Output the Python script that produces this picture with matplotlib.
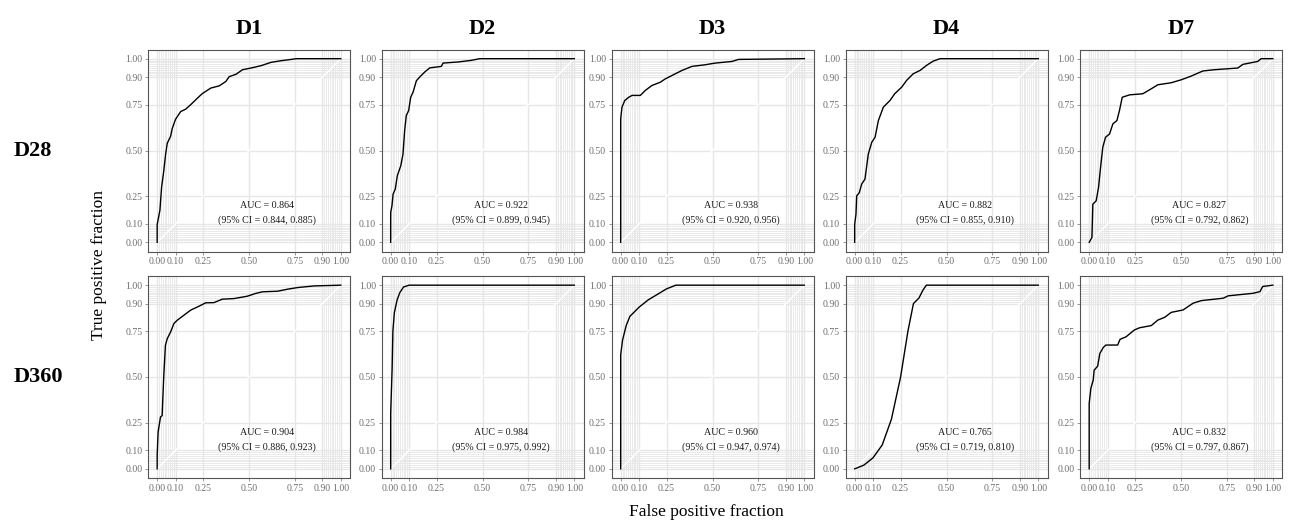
import numpy as np
import matplotlib
matplotlib.use("Agg")
import matplotlib.pyplot as plt

plt.rcParams["font.family"] = ["Liberation Serif", "DejaVu Serif"]

# ----------------------------------------------------------
# ROC curve vertices (false positive fraction, true positive fraction)
# ----------------------------------------------------------
col_names = ["D1", "D2", "D3", "D4", "D7"]
row_names = ["D28", "D360"]

fpr_d28_d1 = [0, 0, 0.015, 0.024, 0.036, 0.046, 0.055, 0.073, 0.082, 0.10, 0.128, 0.155, 0.182, 0.219, 0.246, 0.292, 0.338, 0.374, 0.392, 0.429, 0.465, 0.511, 0.566, 0.62, 0.675, 0.73, 0.757, 1]
tpr_d28_d1 = [0, 0.097, 0.175, 0.30, 0.39, 0.48, 0.54, 0.577, 0.62, 0.67, 0.712, 0.725, 0.749, 0.785, 0.81, 0.84, 0.852, 0.876, 0.902, 0.915, 0.94, 0.949, 0.962, 0.98, 0.989, 0.996, 1.0, 1]

fpr_d28_d2 = [0, 0, 0.007, 0.013, 0.025, 0.036, 0.055, 0.067, 0.076, 0.085, 0.098, 0.109, 0.122, 0.14, 0.158, 0.185, 0.213, 0.276, 0.285, 0.367, 0.44, 0.485, 1]
tpr_d28_d2 = [0, 0.162, 0.199, 0.262, 0.29, 0.362, 0.417, 0.48, 0.608, 0.69, 0.718, 0.79, 0.818, 0.88, 0.90, 0.927, 0.95, 0.958, 0.976, 0.982, 0.991, 1.0, 1]

fpr_d28_d3 = [0, 0, 0.007, 0.022, 0.044, 0.062, 0.107, 0.134, 0.17, 0.216, 0.243, 0.298, 0.334, 0.388, 0.461, 0.515, 0.606, 0.642, 1]
tpr_d28_d3 = [0, 0.672, 0.736, 0.772, 0.79, 0.80, 0.80, 0.827, 0.854, 0.872, 0.89, 0.918, 0.936, 0.958, 0.967, 0.976, 0.985, 0.996, 1]

fpr_d28_d4 = [0, 0, 0.007, 0.011, 0.025, 0.038, 0.056, 0.074, 0.093, 0.111, 0.129, 0.156, 0.192, 0.218, 0.256, 0.283, 0.319, 0.356, 0.392, 0.428, 0.465, 1]
tpr_d28_d4 = [0, 0.098, 0.153, 0.253, 0.27, 0.317, 0.344, 0.48, 0.545, 0.572, 0.663, 0.736, 0.772, 0.809, 0.845, 0.882, 0.918, 0.936, 0.964, 0.987, 1.0, 1]

fpr_d28_d7 = [0, 0.015, 0.02, 0.038, 0.051, 0.062, 0.074, 0.089, 0.111, 0.129, 0.151, 0.165, 0.18, 0.22, 0.292, 0.338, 0.374, 0.447, 0.501, 0.555, 0.619, 0.682, 0.809, 0.837, 0.918, 0.936, 1]
tpr_d28_d7 = [0, 0.026, 0.208, 0.226, 0.299, 0.408, 0.517, 0.572, 0.59, 0.645, 0.663, 0.718, 0.79, 0.803, 0.809, 0.836, 0.858, 0.869, 0.885, 0.905, 0.933, 0.94, 0.949, 0.969, 0.985, 1.0, 1]

fpr_d360_d1 = [0, 0, 0.005, 0.018, 0.027, 0.036, 0.045, 0.055, 0.073, 0.091, 0.109, 0.145, 0.182, 0.227, 0.264, 0.309, 0.355, 0.418, 0.491, 0.536, 0.573, 0.655, 0.709, 0.764, 0.855, 1]
tpr_d360_d1 = [0, 0.073, 0.2, 0.282, 0.29, 0.51, 0.673, 0.709, 0.745, 0.791, 0.809, 0.836, 0.864, 0.885, 0.904, 0.905, 0.924, 0.927, 0.94, 0.955, 0.964, 0.967, 0.978, 0.987, 0.996, 1]

fpr_d360_d2 = [0, 0, 0.008, 0.012, 0.02, 0.035, 0.05, 0.07, 0.10, 1]
tpr_d360_d2 = [0, 0.30, 0.55, 0.75, 0.85, 0.92, 0.96, 0.99, 1.0, 1]

fpr_d360_d3 = [0, 0, 0.01, 0.03, 0.05, 0.10, 0.15, 0.20, 0.25, 0.30, 1]
tpr_d360_d3 = [0, 0.62, 0.70, 0.78, 0.83, 0.88, 0.92, 0.95, 0.98, 1.0, 1]

fpr_d360_d4 = [0, 0.05, 0.10, 0.15, 0.20, 0.25, 0.29, 0.32, 0.35, 0.37, 0.39, 1]
tpr_d360_d4 = [0, 0.02, 0.06, 0.13, 0.27, 0.50, 0.75, 0.90, 0.93, 0.97, 1.0, 1]

fpr_d360_d7 = [0, 0, 0.009, 0.022, 0.027, 0.046, 0.058, 0.077, 0.091, 0.155, 0.168, 0.201, 0.246, 0.274, 0.338, 0.374, 0.411, 0.447, 0.511, 0.566, 0.611, 0.73, 0.757, 0.894, 0.93, 0.945, 1]
tpr_d360_d7 = [0, 0.355, 0.437, 0.483, 0.537, 0.559, 0.628, 0.661, 0.674, 0.674, 0.705, 0.719, 0.756, 0.768, 0.78, 0.81, 0.825, 0.852, 0.865, 0.902, 0.916, 0.929, 0.942, 0.956, 0.965, 0.993, 1]

fpr = [[fpr_d28_d1, fpr_d28_d2, fpr_d28_d3, fpr_d28_d4, fpr_d28_d7],
       [fpr_d360_d1, fpr_d360_d2, fpr_d360_d3, fpr_d360_d4, fpr_d360_d7]]
tpr = [[tpr_d28_d1, tpr_d28_d2, tpr_d28_d3, tpr_d28_d4, tpr_d28_d7],
       [tpr_d360_d1, tpr_d360_d2, tpr_d360_d3, tpr_d360_d4, tpr_d360_d7]]

# AUC with 95% CI
auc_d28 = [0.864, 0.922, 0.938, 0.882, 0.827]
ci_low_d28 = [0.844, 0.899, 0.920, 0.855, 0.792]
ci_high_d28 = [0.885, 0.945, 0.956, 0.910, 0.862]

auc_d360 = [0.904, 0.984, 0.960, 0.765, 0.832]
ci_low_d360 = [0.886, 0.975, 0.947, 0.719, 0.797]
ci_high_d360 = [0.923, 0.992, 0.974, 0.810, 0.867]

auc = [auc_d28, auc_d360]
ci_low = [ci_low_d28, ci_low_d360]
ci_high = [ci_high_d28, ci_high_d360]

major_breaks = [0, 0.1, 0.25, 0.5, 0.75, 0.9, 1]
major_labels = ["0.00", "0.10", "0.25", "0.50", "0.75", "0.90", "1.00"]
minor_breaks = list(np.arange(0, 0.1, 0.01)) + list(np.arange(0.9, 1.0, 0.01))

# ----------------------------------------------------------
# FIGURE LAYOUT (pixels)
# ----------------------------------------------------------
W, H = 1290, 527
fig = plt.figure(figsize=(W / 100, H / 100), dpi=100)

col_left = [148, 381.5, 611.5, 845.5, 1080]
row_top = [49.5, 276]
pw, ph = 202, 202

grid_col = "#E6E6E6"
tick_col = "#6E6E6E"

for r in range(2):
    for c in range(5):
        ax = fig.add_axes([col_left[c] / W, 1 - (row_top[r] + ph) / H, pw / W, ph / H])
        ax.set_xlim(-0.05, 1.05)
        ax.set_ylim(-0.05, 1.05)

        # grid: dense minor lines near 0 and 1
        for v in minor_breaks:
            ax.axvline(v, color=grid_col, lw=0.6, zorder=0)
            ax.axhline(v, color=grid_col, lw=0.6, zorder=0)
        for v in major_breaks:
            ax.axvline(v, color=grid_col, lw=1.0, zorder=0)
            ax.axhline(v, color=grid_col, lw=1.0, zorder=0)

        # reference diagonal
        ax.plot([0, 1], [0, 1], color="white", lw=1.0, zorder=1)

        ax.plot(fpr[r][c], tpr[r][c], color="black", lw=1.0, zorder=3)

        ax.text(0.6, 0.20, f"AUC = {auc[r][c]:.3f}", ha="center", va="center",
                fontsize=7.2, color="#1a1a1a")
        ax.text(0.6, 0.12, f"(95% CI = {ci_low[r][c]:.3f}, {ci_high[r][c]:.3f})",
                ha="center", va="center", fontsize=7.2, color="#1a1a1a")

        ax.set_xticks(major_breaks)
        ax.set_xticklabels(major_labels)
        ax.set_yticks(major_breaks)
        ax.set_yticklabels(major_labels)
        ax.tick_params(axis="both", labelsize=7, colors=tick_col, length=2.5,
                       width=0.5, pad=1.5)
        for sp in ax.spines.values():
            sp.set_color("#555555")
            sp.set_linewidth(0.8)

        if r == 0:
            ax.set_title(col_names[c], fontsize=16, fontweight="bold", pad=11)

# row labels
for r in range(2):
    fig.text(14 / W, 1 - (row_top[r] + ph / 2) / H, row_names[r], ha="left",
             va="center", fontsize=16, fontweight="bold")

fig.text(99 / W, 1 - 265 / H, "True positive fraction", rotation=90,
         ha="center", va="center", fontsize=12.5)
fig.text(706 / W, 1 - 512 / H, "False positive fraction", ha="center",
         va="center", fontsize=12.5)

fig.savefig("out.png", dpi=100)
